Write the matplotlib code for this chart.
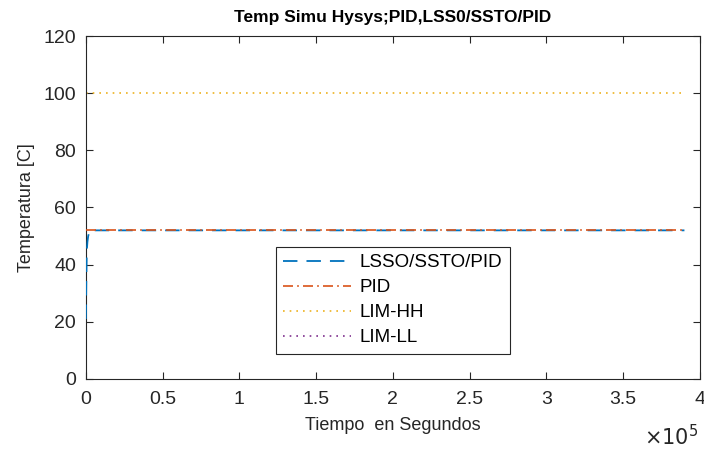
import matplotlib.pyplot as plt
import numpy as np

plt.rcParams['font.family'] = ['Liberation Sans', 'DejaVu Sans']

# time in seconds
t = np.array([0, 300, 600, 1000, 1500, 2500, 10000, 100000, 200000, 300000, 390000])
lsso = np.array([21, 35, 45, 48, 50, 52, 52, 52, 52, 52, 52])
pid = np.array([52, 52, 52, 52, 52, 52, 52, 52, 52, 52, 52])
lim_hh = 100
lim_ll = -10  # below the visible range

fig = plt.figure(figsize=(7.04, 4.53), dpi=100)
ax = fig.add_axes([0.122, 0.1634, 0.872, 0.7571])

ax.plot(t, lsso, color='#0072BD', linestyle=(0, (8, 5)), lw=1.3, label='LSSO/SSTO/PID', zorder=3)
ax.plot(t, pid, color='#D95319', linestyle=(0, (6, 2.5, 1, 2.5)), lw=1.2, label='PID', zorder=3)
ax.plot([t[0], t[-1]], [lim_hh, lim_hh], color='#EDB120', linestyle=(0, (1, 3)), lw=1.2, label='LIM-HH')
ax.plot([t[0], t[-1]], [lim_ll, lim_ll], color='#7E2F8E', linestyle=(0, (1, 3)), lw=1.2, label='LIM-LL')

ax.set_xlim(0, 4e5)
ax.set_ylim(0, 120)
ax.set_xticks(np.arange(0, 4.01e5, 0.5e5))
ax.set_xticklabels(['0', '0.5', '1', '1.5', '2', '2.5', '3', '3.5', '4'])
ax.set_yticks(np.arange(0, 121, 20))
ax.tick_params(direction='in', top=True, right=True, labelsize=14, colors='#262626', length=5)
ax.tick_params(axis='x', pad=9)
ax.tick_params(axis='y', pad=7)
for s in ax.spines.values():
    s.set_color('#262626')
    s.set_linewidth(0.8)

ax.set_title('Temp Simu Hysys;PID,LSS0/SSTO/PID', fontsize=12.5, fontweight='bold', pad=10)
ax.set_xlabel('Tiempo  en Segundos', fontsize=13, color='#262626', labelpad=6)
ax.set_ylabel('Temperatura [C]', fontsize=13, color='#262626', labelpad=6)
fig.text(0.915, 0.018, r'$\times10^{5}$', fontsize=15, color='#262626')

leg = ax.legend(loc='center', bbox_to_anchor=(0.5, 0.23), fontsize=13.5, fancybox=False,
                framealpha=1, edgecolor='#262626', handlelength=3.6, borderpad=0.4,
                labelspacing=0.42, handletextpad=0.5)
leg.get_frame().set_linewidth(0.8)

fig.savefig('out.png', dpi=100)
